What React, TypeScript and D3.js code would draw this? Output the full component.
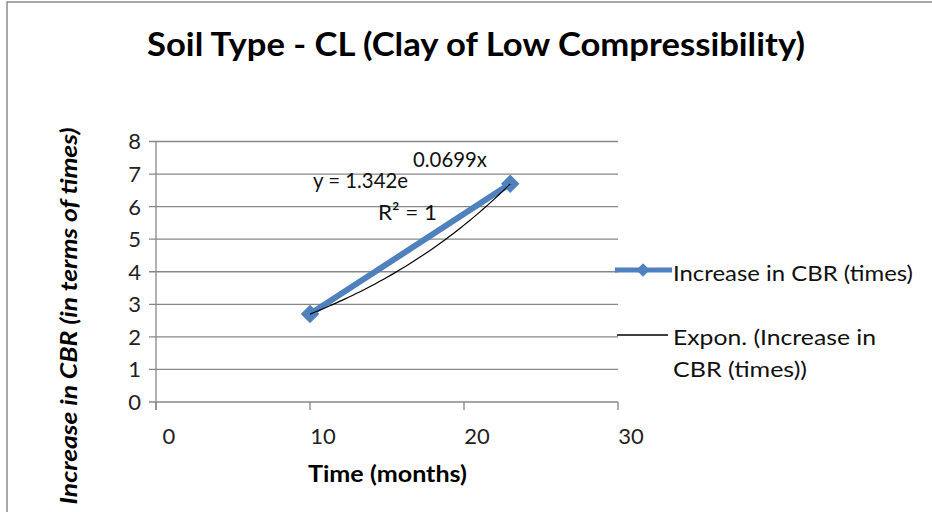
import React from "react";
import * as d3 from "d3";

// values
const months = [10, 23];
const cbrIncrease = [2.7, 6.7];
const xTicks = [0, 10, 20, 30];
const yTicks = [0, 1, 2, 3, 4, 5, 6, 7, 8];
// exponential trendline shown on the chart: y = 1.342e^(0.0699x)
const trendCoef = 1.342;
const trendRate = 0.0699;

const BLUE = "#4F81BD";
const GRID = "#878787";
const FONT = "Lato, 'Open Sans', sans-serif";

export default function App() {
  const width = 932;
  const height = 512;

  const x = d3.scaleLinear().domain([0, 30]).range([156, 618]);
  const y = d3.scaleLinear().domain([0, 8]).range([402, 141.5]);

  const points: [number, number][] = months.map((m, i) => [m, cbrIncrease[i]]);
  const seriesLine = d3
    .line<[number, number]>()
    .x(d => x(d[0]))
    .y(d => y(d[1]));

  const trendXs = d3.range(months[0], months[months.length - 1] + 0.001, 0.25);
  const trendLine = d3
    .line<number>()
    .x(d => x(d))
    .y(d => y(trendCoef * Math.exp(trendRate * d)))
    .curve(d3.curveMonotoneX);

  const marker = d3.symbol().type(d3.symbolSquare).size(170)() as string;
  const legendMarker = d3.symbol().type(d3.symbolSquare).size(90)() as string;

  return (
    <svg
      width={width}
      height={height}
      style={{ position: "absolute", left: 0, top: 0, background: "#fff" }}
      fontFamily={FONT}
    >
      <path d={`M7,${height} V2 H${width}`} fill="none" stroke="#8c8c8c" strokeWidth={1.5} />

      <text x={147} y={56} fontSize={32} fontWeight="bold" textLength={658} lengthAdjust="spacingAndGlyphs">
        Soil Type - CL (Clay of Low Compressibility)
      </text>

      {/* grid */}
      {yTicks.map(t => (
        <g key={t}>
          <line x1={149} x2={x(30)} y1={y(t)} y2={y(t)} stroke={GRID} strokeWidth={1.3} />
          <text x={141} y={y(t)} dy="0.36em" textAnchor="end" fontSize={22} fill="#222">
            {t}
          </text>
        </g>
      ))}
      <line x1={x(0)} x2={x(0)} y1={y(8)} y2={y(0) + 8} stroke={GRID} strokeWidth={1.3} />
      {xTicks.map(t => (
        <g key={t}>
          <line x1={x(t)} x2={x(t)} y1={y(0)} y2={y(0) + 8} stroke={GRID} strokeWidth={1.3} />
          <text x={x(t) + 13} y={444} textAnchor="middle" fontSize={22} fill="#222">
            {t}
          </text>
        </g>
      ))}

      <text x={308} y={482} fontSize={23} fontWeight="bold" textLength={159} lengthAdjust="spacingAndGlyphs">
        Time (months)
      </text>
      <text
        transform="translate(77,316) rotate(-90)"
        textAnchor="middle"
        fontSize={22}
        fontWeight="bold"
        fontStyle="italic"
        textLength={377}
        lengthAdjust="spacingAndGlyphs"
      >
        Increase in CBR (in terms of times)
      </text>

      {/* series */}
      <path d={seriesLine(points) as string} fill="none" stroke={BLUE} strokeWidth={6} />
      {points.map((p, i) => (
        <path key={i} d={marker} transform={`translate(${x(p[0])},${y(p[1])}) rotate(45)`} fill={BLUE} />
      ))}
      <path d={trendLine(trendXs) as string} fill="none" stroke="#000" strokeWidth={1.2} />

      {/* trendline label */}
      <text x={313} y={188} fontSize={22} fill="#111" textLength={95} lengthAdjust="spacingAndGlyphs">
        y = 1.342e
      </text>
      <text x={413} y={167} fontSize={22} fill="#111" textLength={74} lengthAdjust="spacingAndGlyphs">
        0.0699x
      </text>
      <text x={378} y={220} fontSize={22} fill="#111" textLength={59} lengthAdjust="spacingAndGlyphs">
        R² = 1
      </text>

      {/* legend */}
      <line x1={615} x2={672} y1={270} y2={270} stroke={BLUE} strokeWidth={5} />
      <path d={legendMarker} transform="translate(643,270) rotate(45)" fill={BLUE} />
      <text x={673} y={281} fontSize={22} fill="#111" textLength={240} lengthAdjust="spacingAndGlyphs">
        Increase in CBR (times)
      </text>
      <line x1={617} x2={668} y1={335} y2={335} stroke="#000" strokeWidth={1.3} />
      <text x={673} y={345} fontSize={22} fill="#111" textLength={203} lengthAdjust="spacingAndGlyphs">
        Expon. (Increase in
      </text>
      <text x={673} y={377} fontSize={22} fill="#111" textLength={134} lengthAdjust="spacingAndGlyphs">
        CBR (times))
      </text>
    </svg>
  );
}
